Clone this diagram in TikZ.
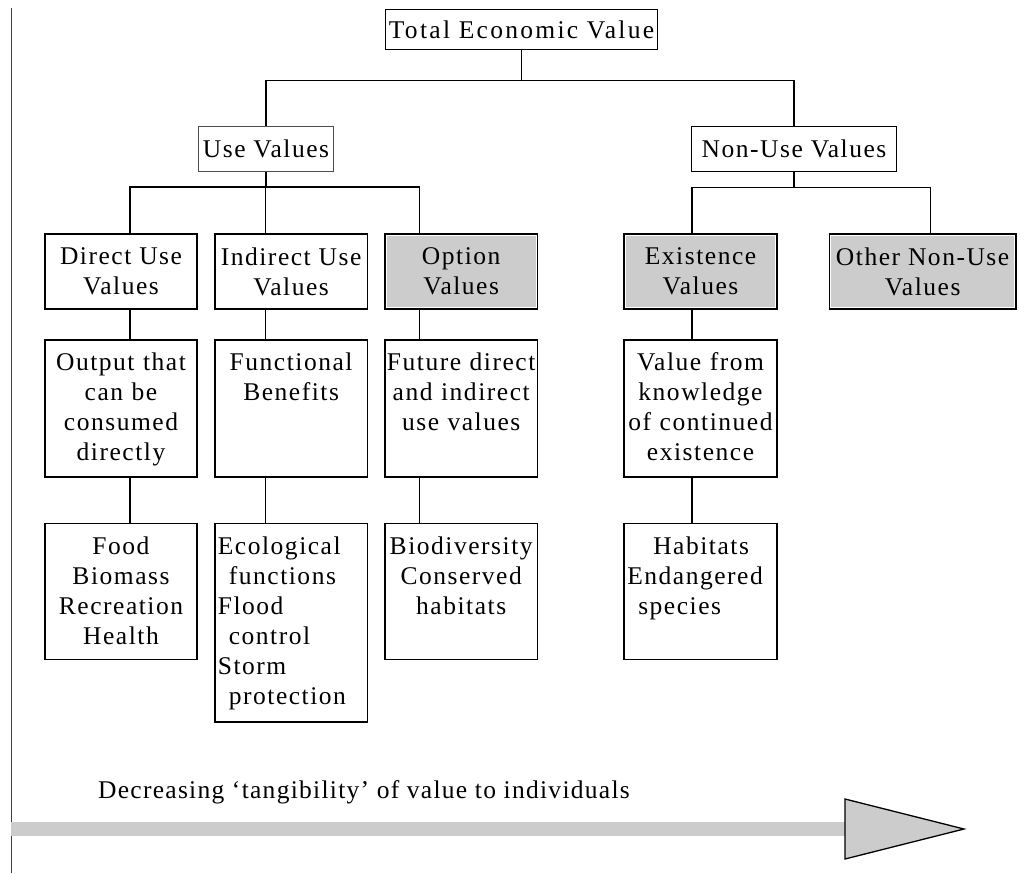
\documentclass[tikz,border=0pt]{standalone}
\usepackage{fontspec}
\setmainfont{Liberation Serif}[LetterSpace=6]
\usepackage{xcolor}
\usepackage{tikz}
\usetikzlibrary{positioning}
\definecolor{cShade}{RGB}{204,204,204}
\tikzset{
	valbox/.style ={rectangle, draw=black, line width=1.6pt, align=center, inner sep=3pt},
	topbox/.style ={valbox, minimum height=40pt},
	catbox/.style ={valbox, minimum width=152.5pt, minimum height=75.5pt},
	optbox/.style ={catbox, fill=cShade},
	descbox/.style={valbox, text width=152pt, inner xsep=0.25pt, inner ysep=0pt, text height=31pt, text depth=#1},
	descbox/.default=106pt,
	leftbox/.style={text width=146.5pt, inner xsep=3pt, align=left},
	link/.style   ={line width=1.3pt},
	spaced/.style ={font=\fontsize{25.5pt}{30pt}\addfontfeatures{LetterSpace=#1}},
}

\begin{document}
\begin{tikzpicture}[x=1pt, y=-1pt, font=\fontsize{25.5pt}{30pt}\selectfont]
	\useasboundingbox (0,0) rectangle (1020,873);
	\draw[line width=1pt, black!75] (11,8) -- (11,873);

	% top of the tree
	\node[topbox, minimum width=272pt, spaced=9] (tev) at (521.5,29.5) {Total Economic Value};
	\node[topbox, minimum width=135pt, minimum height=45pt, line width=1pt, draw=black!70] (use) at (266,149) {Use Values};
	\node[topbox, minimum width=205pt, minimum height=45pt] (non) at (794,149) {Non-Use Values};

	% value types
	\node[catbox] (dir) at (121,271.5) {Direct Use\\Values};
	\node[catbox, right=16pt of dir] (ind) {Indirect Use\\Values};
	\node[optbox, right=16pt of ind] (opt) {Option\\Values};
	\node[optbox] (ext) at (700.5,271.5) {Existence\\Values};
	\node[optbox, minimum width=186.5pt, right=51pt of ext] (oth) {Other Non-Use\\Values};

	% what each one gives
	\node[descbox, below=29pt of dir] (dout) {Output that\\can be\\consumed\\directly};
	\node[descbox, below=29pt of ind] (iout) {Functional\\Benefits};
	\node[descbox, below=29pt of opt] (oout) {Future direct\\and indirect\\use values};
	\node[descbox, below=29pt of ext] (eout) {Value from\\knowledge\\of continued\\existence};

	% examples
	\node[descbox=105pt, below=45pt of dout] (dex) {Food\\Biomass\\Recreation\\Health};
	\node[descbox=167.5pt, leftbox, below=45pt of iout] (iex) {Ecological\\\hspace*{11pt}functions\\Flood\\\hspace*{11pt}control\\Storm\\\hspace*{11pt}protection};
	\node[descbox=105pt, below=45pt of oout] (oex) {Biodiversity\\Conserved\\habitats};
	\node[descbox=105pt, leftbox, below=45pt of eout] (eex) {\hspace*{26pt}Habitats\\Endangered\\\hspace*{11pt}species};

	\foreach \n in {opt, ext, oth}
		\draw[white, line width=0.8pt] ([shift={(2.2pt,-2.2pt)}]\n.north west) rectangle ([shift={(-2.2pt,2.2pt)}]\n.south east);

	% tree connectors
	\draw[link] (tev.south) -- ++(0,30) -| (use.north);
	\draw[link] (tev.south) -- ++(0,30) -| (non.north);
	\draw[link] (use.south) -- ++(0,15) -| ([xshift=9pt]dir.north);
	\draw[link] (use.south) -- ++(0,15) -| ([xshift=-25.5pt]ind.north);
	\draw[link] (use.south) -- ++(0,15) -| ([xshift=-42pt]opt.north);
	\draw[link] (non.south) -- ++(0,15) -| ([xshift=-8.5pt]ext.north);
	\draw[link] (non.south) -- ++(0,15) -| ([xshift=8pt]oth.north);
	\foreach \a/\b/\s in {dir/dout/9, dout/dex/9, ind/iout/-25.5, iout/iex/-25.5, opt/oout/-42, oout/oex/-42, ext/eout/-8.5, eout/eex/-8.5}
		\draw[link] ([xshift=\s pt]\a.south) -- ([xshift=\s pt]\b.north);

	% tangibility arrow
	\node[anchor=base west, inner sep=0pt, spaced=5] (trend) at (98,798) {Decreasing ‘tangibility’ of value to individuals};
	\fill[cShade] (11,822) rectangle (845,836);
	\filldraw[fill=cShade, draw=black, line width=1.3pt] (845,799) -- (964,829) -- (845,859) -- cycle;
\end{tikzpicture}
\end{document}
